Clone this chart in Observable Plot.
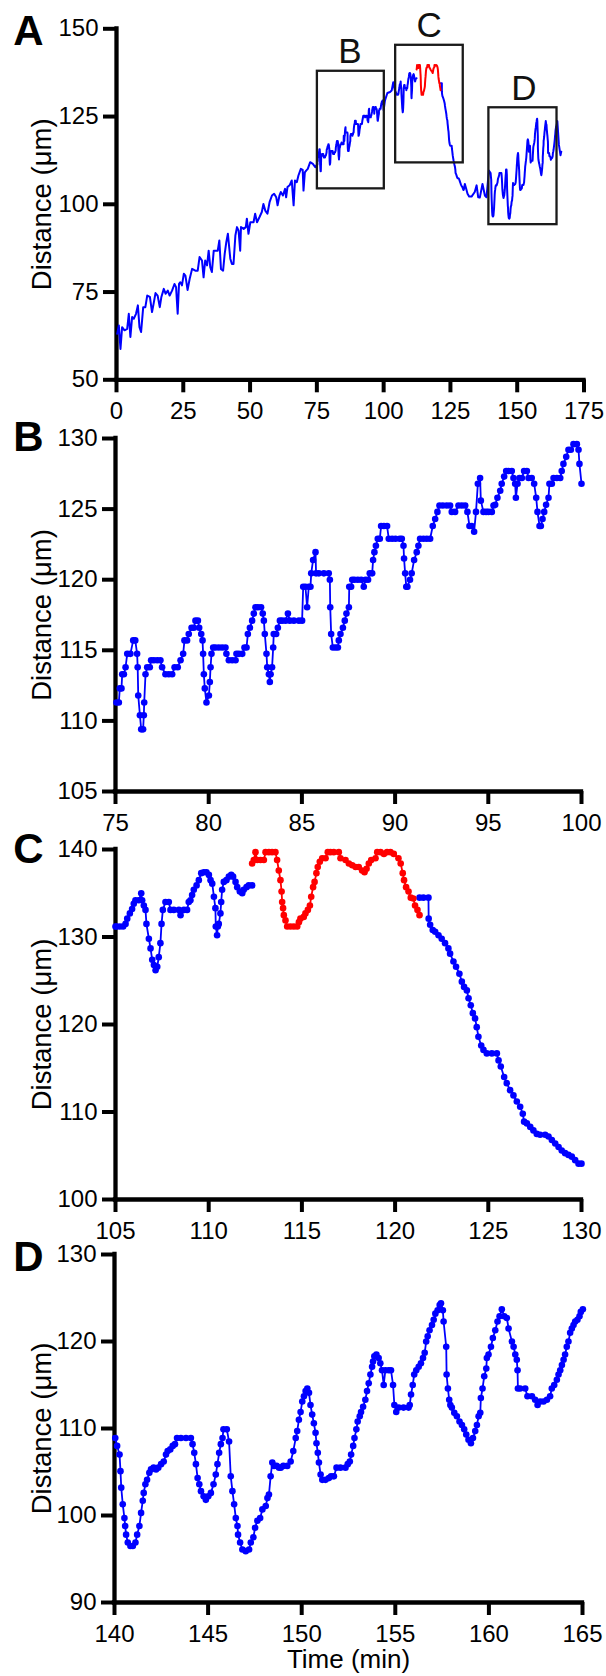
<!DOCTYPE html>
<html><head><meta charset="utf-8">
<script src="https://cdn.jsdelivr.net/npm/d3@7"></script>
<script src="https://cdn.jsdelivr.net/npm/@observablehq/plot@0.6"></script>
<style>
html,body{margin:0;padding:0;background:#fff;}
#wrap{position:relative;width:606px;height:1676px;overflow:hidden;}
#wrap > div{position:absolute;left:0;}
svg{overflow:visible;}
</style></head><body><div id="wrap"></div>
<script>
const FONT = "Liberation Sans, Arial, Helvetica, sans-serif";
const BLUE = "#0000ff", RED = "#ff0000";

// ---------- data (time min, distance µm) ----------
const aStart = [[0.25,63.1],[0.87,65.5],[1.49,58.8],[2.1,65.0],[3.0,64.1],[4.0,64.5],[4.6,68.8],[5.2,62.2],[5.85,67.9],[6.5,67.4],[7.3,68.8],[8.0,71.2],[8.6,65.0],[9.2,63.6],[10.0,70.7],[10.8,70.7],[11.5,74.0],[12.5,73.6],[13.3,69.3],[13.9,71.7],[14.6,74.7],[15.4,74.0],[16.2,70.7],[16.8,73.6],[17.7,75.9],[18.4,74.5],[19.2,75.4],[19.9,74.0],[20.8,75.4],[21.7,77.3],[22.3,76.4],[22.9,68.8],[23.4,77.3],[23.9,77.8],[24.5,76.9],[25.2,80.2],[25.8,79.7],[26.6,75.6],[27.4,78.8],[28.3,81.6],[29.5,81.1],[30.4,81.1],[31.1,85.0],[32.0,84.0],[32.6,79.2],[33.2,84.0],[33.9,82.6],[34.5,86.8],[35.1,82.1],[35.7,80.7],[36.4,86.8],[37.0,86.8],[37.9,86.8],[38.5,89.7],[39.1,81.6],[39.9,81.1],[40.5,85.9],[41.1,89.2],[41.7,91.6],[42.6,84.5],[43.2,83.0],[43.8,83.0],[44.5,91.1],[45.1,93.5],[45.7,92.5],[46.3,86.8],[46.6,93.5],[47.6,93.0],[48.4,93.5],[48.8,95.9],[49.4,91.6],[50.1,94.9],[51.3,94.9],[51.9,97.3],[52.6,94.9],[53.5,96.3],[54.4,97.8],[55.0,100.1],[55.7,98.2],[56.5,97.3],[57.3,100.6],[58.2,102.5],[59.0,103.0],[59.8,102.0],[60.3,99.7],[61.0,102.5],[61.5,103.5],[62.3,102.5],[63.1,104.4],[63.5,102.0],[64.0,104.9],[64.8,105.4],[65.6,106.8],[66.3,99.7],[66.8,106.8],[67.5,106.3],[68.1,108.2],[69.0,110.1],[69.7,109.8],[70.0,103.9],[70.5,109.1],[71.0,109.6],[71.6,110.1],[72.5,112.0],[73.5,111.5],[74.4,110.6]];

const panelB = [[75.05,111.3],[75.18,111.3],[75.23,112.3],[75.32,112.3],[75.36,113.3],[75.45,113.3],[75.54,113.8],[75.63,114.75],[75.80,114.75],[75.95,115.7],[76.06,115.7],[76.16,114.75],[76.19,113.8],[76.22,111.8],[76.31,110.4],[76.38,109.4],[76.48,109.4],[76.52,110.4],[76.54,111.3],[76.61,113.3],[76.70,113.8],[76.84,113.8],[76.91,114.3],[77.06,114.3],[77.24,114.3],[77.41,114.3],[77.50,113.8],[77.68,113.3],[77.86,113.3],[78.04,113.3],[78.17,113.8],[78.34,113.8],[78.49,114.3],[78.63,114.75],[78.70,115.7],[78.84,115.7],[78.93,116.15],[79.08,116.6],[79.20,116.6],[79.29,117.1],[79.42,117.1],[79.49,116.6],[79.60,116.15],[79.67,115.7],[79.70,114.75],[79.74,113.3],[79.79,112.3],[79.88,111.3],[80.01,111.8],[80.06,112.75],[80.10,113.8],[80.15,114.75],[80.24,115.2],[80.36,115.2],[80.54,115.2],[80.72,115.2],[80.90,115.2],[80.95,114.75],[81.08,114.3],[81.26,114.3],[81.44,114.3],[81.49,114.75],[81.62,114.75],[81.80,114.75],[81.92,115.2],[82.03,115.2],[82.10,116.15],[82.21,116.6],[82.33,117.1],[82.42,117.6],[82.51,118.05],[82.64,118.05],[82.81,118.05],[82.90,117.6],[82.96,117.1],[83.01,116.15],[83.10,114.75],[83.14,113.8],[83.23,113.3],[83.28,112.75],[83.32,113.3],[83.40,113.8],[83.46,115.2],[83.49,116.15],[83.62,116.15],[83.71,116.6],[83.82,117.1],[83.94,117.1],[84.12,117.1],[84.25,117.6],[84.35,117.1],[84.57,117.1],[84.84,117.1],[85.01,117.1],[85.07,119.5],[85.19,119.5],[85.28,118.05],[85.37,119.5],[85.46,119.5],[85.50,120.45],[85.60,121.4],[85.73,121.95],[85.76,120.45],[85.91,120.45],[86.18,120.45],[86.44,120.45],[86.50,120.0],[86.52,118.05],[86.57,116.15],[86.66,115.2],[86.80,115.2],[86.93,115.2],[86.98,115.7],[87.07,116.15],[87.20,116.6],[87.30,117.1],[87.39,117.6],[87.52,118.05],[87.54,119.5],[87.64,119.5],[87.70,120.0],[87.82,120.0],[88.00,120.0],[88.18,120.0],[88.32,119.5],[88.41,120.0],[88.55,120.0],[88.64,120.45],[88.77,120.45],[88.82,121.4],[88.89,121.95],[88.97,122.4],[89.07,122.9],[89.18,122.9],[89.25,123.8],[89.40,123.8],[89.57,123.8],[89.66,122.9],[89.84,122.9],[90.02,122.9],[90.25,122.9],[90.36,122.9],[90.45,122.4],[90.48,121.5],[90.54,120.45],[90.60,119.5],[90.66,119.5],[90.80,120.0],[90.89,120.45],[91.02,121.4],[91.16,121.95],[91.25,122.4],[91.34,122.9],[91.52,122.9],[91.70,122.9],[91.88,122.9],[92.02,123.8],[92.15,124.3],[92.27,124.8],[92.38,125.25],[92.56,125.25],[92.77,125.25],[92.95,125.25],[93.04,124.8],[93.22,124.8],[93.40,125.25],[93.58,125.25],[93.76,125.25],[93.88,124.8],[93.99,123.8],[94.11,123.8],[94.24,123.4],[94.34,124.8],[94.44,126.8],[94.56,127.2],[94.60,125.6],[94.74,124.8],[94.88,124.8],[95.01,124.8],[95.19,124.8],[95.28,125.25],[95.37,125.3],[95.49,125.8],[95.64,126.3],[95.72,126.8],[95.85,127.3],[95.96,127.7],[96.08,127.7],[96.26,127.7],[96.35,127.2],[96.44,126.8],[96.48,125.8],[96.57,126.8],[96.67,127.2],[96.80,127.2],[96.92,127.7],[97.07,127.7],[97.16,127.2],[97.33,127.2],[97.46,126.8],[97.57,125.8],[97.64,124.8],[97.75,123.8],[97.82,123.8],[97.91,124.3],[98.00,124.8],[98.10,125.3],[98.23,125.8],[98.28,126.8],[98.41,126.8],[98.50,127.2],[98.68,127.2],[98.86,127.2],[98.94,127.7],[99.03,128.2],[99.18,128.7],[99.30,129.2],[99.43,129.2],[99.57,129.6],[99.75,129.6],[99.84,129.2],[99.89,128.2],[100.0,126.8]];

const aBridge1 = [[100.5,129.6],[101.4,131.7],[102.4,132.0],[103.0,132.4],[103.6,134.8],[104.2,132.4]];

const cBlueBefore = [[105.0,131.2],[105.05,131.2],[105.23,131.2],[105.41,131.2],[105.54,131.5],[105.63,132.1],[105.77,132.7],[105.89,133.2],[105.98,133.8],[106.07,134.2],[106.25,134.2],[106.38,135.0],[106.43,134.2],[106.52,133.6],[106.61,133.1],[106.66,131.5],[106.79,129.8],[106.88,128.7],[106.97,127.4],[107.06,126.8],[107.15,126.2],[107.24,126.6],[107.32,127.7],[107.41,129.3],[107.47,131.5],[107.54,133.1],[107.68,134.0],[107.86,134.0],[107.95,133.1],[108.13,133.1],[108.40,133.1],[108.49,132.5],[108.67,133.1],[108.84,133.1],[108.93,134.0],[109.02,134.2],[109.11,134.8],[109.20,135.4],[109.35,135.9],[109.47,136.5],[109.60,137.3],[109.74,137.4],[109.88,137.4],[110.01,137.1],[110.10,136.5],[110.19,136.1],[110.28,134.6],[110.36,133.3],[110.38,131.2],[110.45,130.2],[110.49,131.2],[110.54,131.5],[110.63,132.7],[110.67,134.0],[110.72,135.4],[110.81,136.3],[110.95,136.5],[111.08,136.9],[111.21,137.1],[111.31,136.9],[111.44,136.3],[111.53,135.7],[111.67,135.2],[111.80,135.0],[111.88,135.4],[112.03,135.7],[112.15,135.9],[112.33,135.9]];

const cRed = [[112.33,138.4],[112.42,138.8],[112.51,139.7],[112.60,138.8],[112.78,138.8],[112.96,138.8],[113.05,139.7],[113.23,139.7],[113.40,139.7],[113.58,139.7],[113.67,138.8],[113.76,137.6],[113.85,136.5],[113.91,135.2],[113.94,134.0],[113.99,133.3],[114.03,132.5],[114.12,131.9],[114.21,131.2],[114.39,131.2],[114.57,131.2],[114.75,131.2],[114.84,131.7],[114.92,132.1],[115.10,132.3],[115.19,132.7],[115.32,133.1],[115.43,133.6],[115.50,134.6],[115.60,135.7],[115.68,136.3],[115.78,137.3],[115.85,138.0],[115.96,138.6],[116.09,139.0],[116.27,139.0],[116.39,139.7],[116.53,139.7],[116.71,139.7],[116.98,139.7],[117.07,139.0],[117.34,138.8],[117.52,138.4],[117.70,138.2],[117.88,138.0],[118.05,138.0],[118.23,137.6],[118.36,137.4],[118.47,137.8],[118.59,138.4],[118.72,138.8],[118.95,139.0],[119.04,139.7],[119.22,139.7],[119.40,139.5],[119.57,139.7],[119.75,139.7],[119.93,139.5],[120.18,139.0],[120.30,138.4],[120.41,137.3],[120.48,136.5],[120.59,135.7],[120.72,135.2],[120.84,134.5],[120.98,134.4],[121.07,133.6],[121.20,133.1],[121.31,132.5]];

const cBlueAfter = [[121.31,134.5],[121.52,134.5],[121.79,134.5],[121.80,132.1],[121.88,131.4],[122.02,130.8],[122.15,130.6],[122.33,130.2],[122.50,129.8],[122.68,129.3],[122.86,128.7],[122.95,128.1],[123.13,127.2],[123.27,126.6],[123.45,125.8],[123.58,124.9],[123.70,124.3],[123.85,123.9],[123.94,123.0],[124.06,122.2],[124.17,121.3],[124.29,120.7],[124.38,119.7],[124.47,118.6],[124.62,117.6],[124.74,117.1],[124.92,116.7],[125.19,116.7],[125.46,116.7],[125.55,115.9],[125.67,115.2],[125.85,114.0],[125.99,113.3],[126.17,112.5],[126.35,111.9],[126.53,111.2],[126.71,110.6],[126.85,109.8],[126.92,108.9],[127.07,108.7],[127.25,108.3],[127.42,107.9],[127.60,107.5],[127.78,107.4],[128.05,107.4],[128.23,107.2],[128.41,106.8],[128.59,106.4],[128.77,106.0],[128.94,105.6],[129.12,105.3],[129.30,105.1],[129.48,104.9],[129.66,104.5],[129.84,104.1],[130.0,104.1]];

const aBridge2 = [[130.4,105.8],[130.9,104.4],[131.4,103.0],[132.0,102.2],[132.9,102.2],[134.1,103.5],[134.8,105.4],[135.4,102.0],[136.0,101.9],[137.0,105.8],[137.9,102.5],[138.5,102.0],[139.4,109.6]];

const panelD = [[140.04,108.9],[140.14,108.0],[140.27,107.0],[140.32,105.1],[140.36,103.2],[140.44,101.3],[140.53,99.7],[140.57,98.8],[140.62,97.8],[140.71,96.9],[140.85,96.5],[140.98,96.5],[141.12,96.9],[141.21,97.8],[141.33,98.8],[141.42,100.3],[141.51,101.7],[141.56,102.6],[141.65,103.6],[141.74,104.1],[141.86,104.9],[141.95,105.3],[142.09,105.5],[142.22,105.3],[142.34,105.5],[142.49,105.9],[142.63,106.2],[142.75,107.0],[142.84,107.4],[142.98,107.6],[143.11,108.0],[143.23,108.2],[143.34,108.9],[143.55,108.9],[143.82,108.9],[144.08,108.9],[144.17,108.2],[144.26,107.2],[144.35,105.9],[144.44,104.3],[144.53,103.6],[144.62,102.8],[144.76,102.2],[144.88,101.8],[145.01,102.2],[145.15,102.6],[145.29,103.6],[145.41,104.7],[145.50,105.9],[145.59,107.2],[145.68,108.2],[145.77,108.9],[145.82,109.9],[146.00,109.9],[146.12,108.5],[146.21,104.5],[146.30,102.8],[146.39,101.3],[146.48,99.7],[146.57,98.8],[146.60,97.8],[146.71,96.9],[146.83,96.1],[147.01,95.9],[147.19,96.1],[147.28,96.9],[147.42,97.5],[147.51,98.6],[147.63,99.4],[147.78,99.7],[147.90,100.7],[148.08,101.1],[148.17,102.0],[148.25,102.4],[148.34,104.5],[148.43,106.1],[148.52,105.7],[148.66,105.7],[148.79,105.5],[148.88,105.5],[149.02,105.7],[149.23,105.7],[149.41,106.2],[149.55,107.4],[149.68,108.9],[149.76,109.7],[149.85,111.0],[149.94,111.9],[150.03,113.1],[150.12,113.7],[150.21,114.3],[150.30,114.6],[150.39,114.1],[150.47,112.7],[150.56,111.6],[150.65,110.6],[150.74,109.5],[150.79,108.3],[150.86,107.2],[150.92,106.1],[151.01,104.7],[151.10,104.1],[151.27,104.1],[151.45,104.3],[151.57,104.5],[151.72,104.5],[151.86,105.5],[152.07,105.5],[152.34,105.5],[152.46,105.9],[152.57,106.2],[152.64,107.0],[152.75,108.0],[152.82,108.9],[152.92,109.9],[152.99,110.8],[153.10,111.4],[153.17,111.9],[153.28,112.5],[153.40,113.3],[153.49,114.3],[153.58,115.2],[153.67,116.2],[153.76,117.1],[153.81,117.7],[153.88,118.3],[153.99,118.5],[154.11,118.1],[154.20,117.5],[154.29,116.7],[154.38,115.0],[154.47,116.7],[154.65,116.7],[154.77,116.7],[154.88,115.0],[154.95,112.7],[155.05,111.9],[155.18,112.4],[155.44,112.4],[155.71,112.4],[155.77,112.7],[155.84,113.9],[155.93,115.0],[156.01,116.2],[156.12,116.7],[156.25,117.1],[156.37,117.5],[156.48,118.1],[156.57,118.7],[156.65,120.0],[156.73,120.6],[156.83,121.3],[156.96,121.9],[157.05,122.5],[157.14,123.2],[157.26,123.6],[157.37,124.2],[157.44,124.4],[157.54,123.6],[157.58,122.3],[157.72,119.4],[157.74,116.2],[157.81,114.6],[157.88,113.3],[157.94,112.7],[158.02,112.4],[158.15,111.8],[158.29,111.4],[158.43,110.8],[158.56,110.4],[158.68,109.9],[158.79,109.3],[158.91,108.7],[159.04,108.3],[159.15,108.9],[159.27,109.7],[159.36,110.4],[159.45,111.4],[159.54,111.8],[159.57,113.5],[159.66,114.6],[159.75,116.0],[159.86,116.9],[159.89,118.1],[159.98,118.5],[160.11,119.4],[160.21,120.4],[160.34,121.3],[160.46,122.3],[160.57,122.9],[160.69,123.7],[160.82,122.9],[160.96,122.7],[161.05,121.5],[161.23,120.0],[161.32,119.4],[161.41,118.5],[161.49,117.9],[161.53,116.7],[161.55,114.6],[161.67,114.6],[161.94,114.6],[162.06,113.7],[162.30,113.7],[162.47,113.3],[162.60,112.7],[162.74,113.1],[162.92,113.1],[163.10,113.3],[163.27,113.7],[163.36,114.6],[163.49,115.0],[163.63,115.6],[163.72,116.2],[163.81,116.7],[163.90,117.3],[163.99,117.9],[164.07,118.5],[164.16,119.4],[164.25,120.0],[164.34,121.0],[164.43,121.5],[164.52,121.9],[164.61,122.3],[164.73,122.5],[164.84,122.9],[164.91,123.4],[165.02,123.7]];

const aEnd = [[165.6,117.0],[166.2,114.0],[166.5,115.0]];

// zoom boxes drawn on panel A
const boxNames = ["B","C","D"];
const boxX1 = [75.2,104.5,139.4];
const boxX2 = [100.25,129.8,164.9];
const boxY1 = [104.4,111.8,94.2];
const boxY2 = [137.9,145.3,127.5];
const boxLabelX = [87.4,117.0,152.5];
const boxLabelY = [140.2,147.8,129.8];

// axes
const aXTicks = [0,25,50,75,100,125,150,175], aYTicks = [50,75,100,125,150];
const bXTicks = [75,80,85,90,95,100],        bYTicks = [105,110,115,120,125,130];
const cXTicks = [105,110,115,120,125,130],   cYTicks = [100,110,120,130,140];
const dXTicks = [140,145,150,155,160,165],   dYTicks = [90,100,110,120,130];
const yTitle = "Distance (μm)";
const xTitle = "Time (min)";

// ---------- drawing ----------
const X = d => d[0], Y = d => d[1];
const wrap = document.getElementById("wrap");

function panel(o) {
  const xDom = [o.xTicks[0], o.xTicks[o.xTicks.length - 1]];
  const yDom = [o.yTicks[0], o.yTicks[o.yTicks.length - 1]];
  const marks = [
    Plot.ruleX([xDom[0]], {y1: yDom[0], y2: yDom[1], strokeWidth: 4.3, strokeLinecap: "square"}),
    Plot.ruleY([yDom[0]], {x1: xDom[0], x2: xDom[1], strokeWidth: 4.3, strokeLinecap: "square"}),
    Plot.axisX({ticks: o.xTicks, tickSize: 13, tickPadding: 9, strokeWidth: 4, fontSize: 24, label: null, tickFormat: d => String(d)}),
    Plot.axisY({ticks: o.yTicks, tickSize: 13, tickPadding: 5, strokeWidth: 4, fontSize: 24, label: null, tickFormat: d => String(d)}),
    Plot.text([o.letter], {text: d => d, frameAnchor: "top-left", dx: 28 - o.ml, dy: o.letterDy, fontSize: 42, fontWeight: "bold", textAnchor: "middle", lineAnchor: "middle"}),
    Plot.text([yTitle], {text: d => d, frameAnchor: "left", dx: 42 - o.ml, rotate: -90, fontSize: 27.5, textAnchor: "middle", lineAnchor: "middle"}),
    ...o.marks
  ];
  const svg = Plot.plot({
    width: 606, height: o.height,
    marginLeft: o.ml, marginRight: o.mr, marginTop: o.mt, marginBottom: o.mb,
    x: {domain: xDom}, y: {domain: yDom},
    style: {fontFamily: FONT, background: "transparent", color: "#000", overflow: "visible"},
    marks
  });
  const div = document.createElement("div");
  div.style.top = o.top + "px";
  div.appendChild(svg);
  wrap.appendChild(div);
}

const lineA1 = [...aStart, ...panelB, ...aBridge1, ...cBlueBefore];
const lineA2 = [...cBlueAfter, ...aBridge2, ...panelD, ...aEnd];
const boxes = boxNames.map((n, i) => ({n, x1: boxX1[i], x2: boxX2[i], y1: boxY1[i], y2: boxY2[i], lx: boxLabelX[i], ly: boxLabelY[i]}));

function traced(data, color) {
  return [
    Plot.line(data, {x: X, y: Y, stroke: color, strokeWidth: 1.8}),
    Plot.dot(data, {x: X, y: Y, r: 3.3, fill: color, stroke: "none"})
  ];
}

panel({top: 0, height: 420, ml: 116, mr: 22.5, mt: 28.3, mb: 40.7, xTicks: aXTicks, yTicks: aYTicks, letter: "A", letterDy: 3,
  marks: [
    Plot.line(lineA1, {x: X, y: Y, stroke: BLUE, strokeWidth: 2}),
    Plot.line(lineA2, {x: X, y: Y, stroke: BLUE, strokeWidth: 2}),
    Plot.line(cRed, {x: X, y: Y, stroke: RED, strokeWidth: 2}),
    Plot.rect(boxes, {x1: "x1", x2: "x2", y1: "y1", y2: "y2", fill: "none", stroke: "#1a1a1a", strokeWidth: 2.3}),
    Plot.text(boxes, {x: "lx", y: "ly", text: "n", fontSize: 35, lineAnchor: "bottom", fill: "#111"})
  ]});

panel({top: 420, height: 410, ml: 115, mr: 25, mt: 18, mb: 39, xTicks: bXTicks, yTicks: bYTicks, letter: "B", letterDy: -1,
  marks: traced(panelB, BLUE)});

panel({top: 830, height: 410, ml: 115, mr: 25, mt: 19, mb: 41, xTicks: cXTicks, yTicks: cYTicks, letter: "C", letterDy: 0,
  marks: [...traced(cBlueBefore, BLUE), ...traced(cBlueAfter, BLUE), ...traced(cRed, RED)]});

panel({top: 1240, height: 436, ml: 114, mr: 24, mt: 14, mb: 74, xTicks: dXTicks, yTicks: dYTicks, letter: "D", letterDy: 3,
  marks: [...traced(panelD, BLUE),
    Plot.text([xTitle], {text: d => d, frameAnchor: "bottom", dy: 65.5, fontSize: 26, lineAnchor: "bottom"})]});
</script>
</body></html>
